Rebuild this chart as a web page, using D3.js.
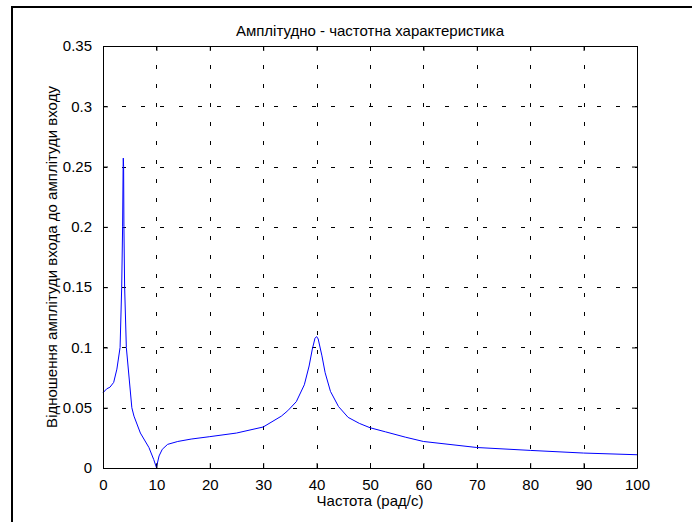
<!DOCTYPE html>
<html>
<head>
<meta charset="utf-8">
<script src="https://cdn.jsdelivr.net/npm/d3@7"></script>
<style>
  body { margin: 0; background: #fff; }
  svg { display: block; font-family: "Liberation Sans", Arial, sans-serif; }
</style>
</head>
<body>
<svg id="canvas" width="692" height="522"></svg>
<script>
var titleText = "Амплітудно - частотна характеристика",
    xLabelText = "Частота (рад/с)",
    yLabelText = "Відношення амплітуди входа до амплітуди входу";

var xTicks = [0, 10, 20, 30, 40, 50, 60, 70, 80, 90, 100];
var yTicks = [0, 0.05, 0.1, 0.15, 0.2, 0.25, 0.3, 0.35];
var yTickLabels = ["0", "0.05", "0.1", "0.15", "0.2", "0.25", "0.3", "0.35"];

// frequency (rad/s) and amplitude ratio
var freq = [0, 0.7, 1.3, 2.0, 2.6, 3.2, 3.5, 3.67, 3.77, 3.8, 3.86, 3.92, 4.05,
  4.37, 5.4, 5.8, 7.0, 8.6, 9.5, 10, 10.5, 11.1, 12.1, 14, 16.5, 20, 25, 30,
  33.4, 34.6, 36.2, 37.7, 38.6, 39.2, 39.7, 40, 40.3, 41, 41.6, 42.6, 44.1,
  45.9, 48, 50, 52.9, 56.6, 60, 70, 80, 90, 100];
var amp = [0.0624, 0.0657, 0.067, 0.071, 0.082, 0.1, 0.15, 0.2, 0.25, 0.257, 0.25, 0.2, 0.15,
  0.1, 0.05, 0.043, 0.029, 0.017, 0.007, 0.0005, 0.01, 0.0155, 0.0196, 0.022, 0.024, 0.026, 0.029, 0.034,
  0.043, 0.0475, 0.055, 0.069, 0.0846, 0.0986, 0.1076, 0.109, 0.107, 0.093, 0.079, 0.0635, 0.051,
  0.042, 0.037, 0.0334, 0.030, 0.0256, 0.022, 0.017, 0.0146, 0.0124, 0.011];

var svg = d3.select("#canvas"),
    plotLeft = 103, plotRight = 637, plotTop = 46, plotBottom = 468;

// outer figure frame
svg.append("rect")
  .attr("x", 12).attr("y", 7)
  .attr("width", 700).attr("height", 540)
  .style("fill", "none")
  .style("stroke", "#000")
  .style("stroke-width", 2);

var x = d3.scaleLinear().domain([0, 100]).range([plotLeft, plotRight]);
var y = d3.scaleLinear().domain([0, 0.35]).range([plotBottom, plotTop]);

// grid
var grid = svg.append("g")
  .style("stroke", "#000")
  .style("stroke-width", 1)
  .style("stroke-dasharray", "4,15");

grid.selectAll(".vg")
  .data(xTicks.slice(1, -1))
  .enter()
  .append("line")
  .attr("x1", function(d) { return Math.round(x(d)) + 0.5; })
  .attr("x2", function(d) { return Math.round(x(d)) + 0.5; })
  .attr("y1", plotBottom)
  .attr("y2", plotTop);

grid.selectAll(".hg")
  .data(yTicks.slice(1, -1))
  .enter()
  .append("line")
  .attr("y1", function(d) { return Math.round(y(d)) + 0.5; })
  .attr("y2", function(d) { return Math.round(y(d)) + 0.5; })
  .attr("x1", plotLeft)
  .attr("x2", plotRight);

// curve
var line = d3.line()
  .x(function(d, i) { return x(freq[i]); })
  .y(function(d) { return y(d); });

svg.append("path")
  .datum(amp)
  .attr("d", line)
  .style("fill", "none")
  .style("stroke", "#0000ff")
  .style("stroke-width", 1);

// axes with inward ticks, MATLAB style
var fmtY = function(d) { return yTickLabels[yTicks.indexOf(d)]; };

svg.append("g")
  .attr("transform", "translate(0," + plotBottom + ")")
  .call(d3.axisBottom(x).tickValues(xTicks).tickSizeInner(-5).tickSizeOuter(0).tickPadding(11));
svg.append("g")
  .attr("transform", "translate(0," + plotTop + ")")
  .call(d3.axisTop(x).tickValues(xTicks).tickSizeInner(-5).tickSizeOuter(0).tickFormat(""));
svg.append("g")
  .attr("transform", "translate(" + plotLeft + ",0)")
  .call(d3.axisLeft(y).tickValues(yTicks).tickSizeInner(-5).tickSizeOuter(0).tickPadding(11).tickFormat(fmtY));
svg.append("g")
  .attr("transform", "translate(" + plotRight + ",0)")
  .call(d3.axisRight(y).tickValues(yTicks).tickSizeInner(-5).tickSizeOuter(0).tickFormat(""));

svg.selectAll(".domain").style("stroke", "#000");
svg.selectAll(".tick line").style("stroke", "#000");
svg.selectAll(".tick text")
  .style("font-family", "'Liberation Sans', Arial, sans-serif")
  .style("font-size", "15px")
  .style("fill", "#000");

// labels
svg.append("text")
  .attr("x", (plotLeft + plotRight) / 2)
  .attr("y", 36)
  .attr("text-anchor", "middle")
  .style("font-size", "15px")
  .text(titleText);

svg.append("text")
  .attr("x", (plotLeft + plotRight) / 2)
  .attr("y", 506)
  .attr("text-anchor", "middle")
  .style("font-size", "15px")
  .text(xLabelText);

svg.append("text")
  .attr("transform", "translate(57," + ((plotTop + plotBottom) / 2) + ") rotate(-90)")
  .attr("text-anchor", "middle")
  .style("font-size", "15px")
  .text(yLabelText);
</script>
</body>
</html>
